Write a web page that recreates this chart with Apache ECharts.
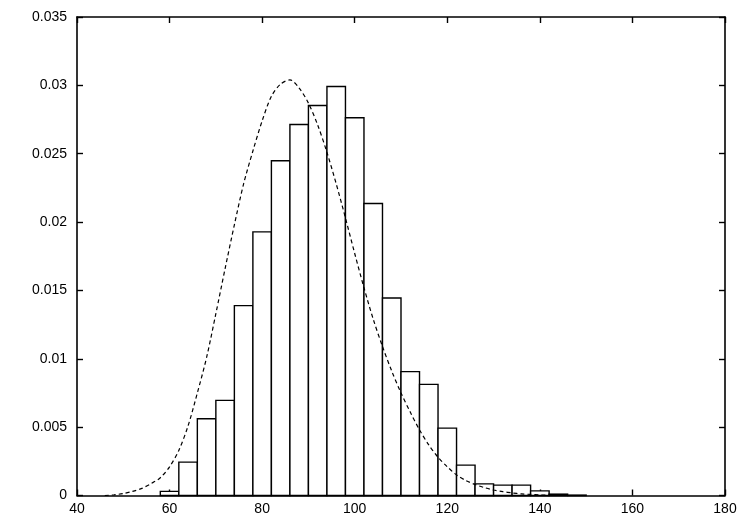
<!DOCTYPE html>
<html>
<head>
<meta charset="utf-8">
<script src="https://cdn.jsdelivr.net/npm/echarts@6/dist/echarts.min.js"></script>
<style>
    html, body { margin: 0; padding: 0; background: #fff; }
    #histChart { width: 750px; height: 525px; }
</style>
</head>
<body>
<div id="histChart"></div>
<script>
// histogram bins (centre of each 4-wide bin) and their densities
var binWidth = 4;
var binCenters = [60, 64, 68, 72, 76, 80, 84, 88, 92, 96, 100, 104, 108, 112, 116, 120, 124, 128, 132, 136, 140, 144, 148];
var binValues = [0.0003, 0.00244, 0.00561, 0.00696, 0.01389, 0.01928, 0.02448, 0.02714, 0.02853, 0.02992, 0.02763, 0.02136,
    0.01445, 0.00906, 0.00813, 0.00493, 0.00222, 0.00085, 0.00076, 0.00076, 0.00034, 0.0001, 0.00003];

// fitted density curve
var curveX = [46, 48, 50, 52, 54, 56, 58, 60, 62, 64, 66, 68, 70, 72, 74, 76, 78, 80, 82, 84, 86, 88, 90,
    92, 94, 96, 98, 100, 102, 104, 106, 108, 110, 112, 114, 116, 118, 120, 122, 124, 126, 128, 130,
    132, 134, 136, 138, 140, 142, 146];
var curveY = [0, 0.00005, 0.00014, 0.0003, 0.00052, 0.00087, 0.0013, 0.0021, 0.0033, 0.0051, 0.0075, 0.0101,
    0.0133, 0.0166, 0.0198, 0.0228, 0.0252, 0.0274, 0.0292, 0.0301, 0.0304, 0.0298, 0.0287,
    0.0271, 0.0251, 0.0228, 0.0203, 0.0177, 0.0152, 0.0129, 0.0109, 0.0091, 0.0075, 0.0061, 0.0048,
    0.0037, 0.0028, 0.0021, 0.0015, 0.0011, 0.0008, 0.00058, 0.0004, 0.00028, 0.00019, 0.00012,
    0.00008, 0.00004, 0.00002, 0];

var xTicks = [40, 60, 80, 100, 120, 140, 160, 180];
var yTicks = [0, 0.005, 0.01, 0.015, 0.02, 0.025, 0.03, 0.035];

var histData = [];
for (var i = 0; i < binCenters.length; i++) {
    histData.push([binCenters[i], binValues[i]]);
}
var curveData = [];
for (var j = 0; j < curveX.length; j++) {
    curveData.push([curveX[j], curveY[j]]);
}

var labelFont = {
    color: '#000',
    fontFamily: 'Liberation Sans',
    fontSize: 14
};
var frameLine = { show: true, onZero: false, lineStyle: { color: '#000', width: 1.6 } };
var inTick = { show: true, inside: true, length: 6, lineStyle: { color: '#000', width: 1.4 } };

var histChart = echarts.init(document.getElementById('histChart'));
histChart.setOption({
    animation: false,
    backgroundColor: '#fff',
    grid: {
        left: 77,
        right: 25,
        top: 17,
        bottom: 29.5,
        containLabel: false
    },
    xAxis: [
        {
            type: 'value',
            min: xTicks[0],
            max: xTicks[xTicks.length - 1],
            interval: 20,
            position: 'bottom',
            axisLine: frameLine,
            axisTick: inTick,
            splitLine: { show: false },
            axisLabel: Object.assign({ margin: 7 }, labelFont)
        },
        {
            type: 'value',
            min: xTicks[0],
            max: xTicks[xTicks.length - 1],
            interval: 20,
            position: 'top',
            axisLine: frameLine,
            axisTick: inTick,
            splitLine: { show: false },
            axisLabel: { show: false }
        }
    ],
    yAxis: [
        {
            type: 'value',
            min: yTicks[0],
            max: yTicks[yTicks.length - 1],
            interval: 0.005,
            position: 'left',
            axisLine: frameLine,
            axisTick: inTick,
            splitLine: { show: false },
            axisLabel: Object.assign({ margin: 10 }, labelFont)
        },
        {
            type: 'value',
            min: yTicks[0],
            max: yTicks[yTicks.length - 1],
            interval: 0.005,
            position: 'right',
            axisLine: frameLine,
            axisTick: inTick,
            splitLine: { show: false },
            axisLabel: { show: false }
        }
    ],
    series: [
        {
            type: 'custom',
            xAxisIndex: 0,
            yAxisIndex: 0,
            z: 2,
            renderItem: function (params, api) {
                var c = api.value(0);
                var v = api.value(1);
                var p0 = api.coord([c - binWidth / 2, v]);
                var p1 = api.coord([c + binWidth / 2, 0]);
                return {
                    type: 'rect',
                    shape: { x: p0[0], y: p0[1], width: p1[0] - p0[0], height: p1[1] - p0[1] },
                    style: { fill: '#fff', stroke: '#000', lineWidth: 1.4 }
                };
            },
            encode: { x: 0, y: 1 },
            data: histData
        },
        {
            type: 'line',
            xAxisIndex: 0,
            yAxisIndex: 0,
            z: 3,
            smooth: 0.3,
            symbol: 'none',
            lineStyle: { color: '#000', width: 1.2, type: [4, 3] },
            data: curveData
        }
    ]
});
</script>
</body>
</html>
